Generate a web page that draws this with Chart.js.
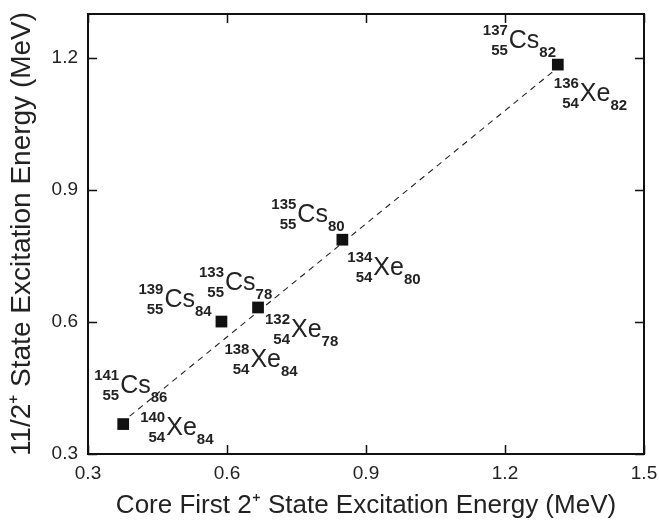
<!DOCTYPE html>
<html>
<head>
<meta charset="utf-8">
<script src="https://cdn.jsdelivr.net/npm/chart.js@4"></script>
<style>
  html, body { margin: 0; padding: 0; background: #fff; }
  #wrap { width: 659px; height: 521px; }
</style>
</head>
<body>
<div id="wrap"><canvas id="chart" width="659" height="521"></canvas></div>
<script>
// core 2+ energy (x) vs 11/2+ energy (y), MeV
const coreE = [0.376, 0.588, 0.667, 0.849, 1.314];
const levelE = [0.368, 0.601, 0.633, 0.787, 1.185];
// nuclide labels, Cs isotope and its Xe core
const csMass = [141, 139, 133, 135, 137];
const csN = [86, 84, 78, 80, 82];
const xeMass = [140, 138, 132, 134, 136];
const xeN = [84, 84, 78, 80, 82];
// dashed trend line
const fitX = [0.39, 1.302];
const fitY = [0.386, 1.168];
const xTicks = [0.3, 0.6, 0.9, 1.2, 1.5];
const yTicks = [0.3, 0.6, 0.9, 1.2];

const textColor = '#222';
const FONT = '"Liberation Sans", Arial, sans-serif';

// label offsets from the marker, in px
const csOff = [[-3, -31], [-57, -15], [-33, -17], [-45, -18], [-49, -17]];
const xeOff = [[43, 11], [29, 45], [33, 30], [31, 35], [22, 36]];

function drawNuclide(ctx, x, y, A, Z, sym, N) {
  ctx.fillStyle = textColor;
  ctx.textBaseline = 'alphabetic';
  ctx.font = 'bold 15px ' + FONT;
  ctx.textAlign = 'right';
  ctx.fillText(String(A), x - 1, y - 13);
  ctx.fillText(String(Z), x - 1, y + 7);
  ctx.font = '25px ' + FONT;
  ctx.textAlign = 'left';
  ctx.fillText(sym, x, y);
  const w = ctx.measureText(sym).width;
  ctx.font = 'bold 15px ' + FONT;
  ctx.fillText(String(N), x + w, y + 9);
}

const framePlugin = {
  id: 'frame',
  afterDraw(chart) {
    const { ctx, chartArea: a, scales } = chart;
    ctx.save();
    ctx.strokeStyle = '#111';
    ctx.lineWidth = 1.5;
    const tl = 9;
    ctx.beginPath();
    xTicks.forEach(v => {
      const px = Math.round(scales.x.getPixelForValue(v)) + 0.5;
      ctx.moveTo(px, a.bottom); ctx.lineTo(px, a.bottom - tl);
      ctx.moveTo(px, a.top); ctx.lineTo(px, a.top + tl);
    });
    yTicks.forEach(v => {
      const py = Math.round(scales.y.getPixelForValue(v)) + 0.5;
      ctx.moveTo(a.left, py); ctx.lineTo(a.left + tl, py);
      ctx.moveTo(a.right, py); ctx.lineTo(a.right - tl, py);
    });
    ctx.stroke();
    ctx.lineWidth = 2;
    ctx.strokeRect(a.left, a.top, a.right - a.left, a.bottom - a.top);
    ctx.restore();
  },
  afterDatasetsDraw(chart) {
    const { ctx, scales } = chart;
    ctx.save();
    coreE.forEach((xv, i) => {
      const px = scales.x.getPixelForValue(xv);
      const py = scales.y.getPixelForValue(levelE[i]);
      drawNuclide(ctx, px + csOff[i][0], py + csOff[i][1], csMass[i], 55, 'Cs', csN[i]);
      drawNuclide(ctx, px + xeOff[i][0], py + xeOff[i][1], xeMass[i], 54, 'Xe', xeN[i]);
    });
    ctx.restore();
  }
};

new Chart(document.getElementById('chart'), {
  type: 'scatter',
  data: {
    datasets: [
      {
        data: coreE.map((x, i) => ({ x: x, y: levelE[i] })),
        pointStyle: 'rect',
        pointRadius: 8.3,
        pointHoverRadius: 8.3,
        backgroundColor: '#111',
        borderColor: '#111',
        borderWidth: 0,
        order: 1
      },
      {
        data: fitX.map((x, i) => ({ x: x, y: fitY[i] })),
        showLine: true,
        borderColor: '#222',
        borderWidth: 1.1,
        borderDash: [6, 5],
        pointRadius: 0,
        order: 2
      }
    ]
  },
  options: {
    responsive: false,
    animation: false,
    layout: { padding: { top: 14, right: 15, bottom: 0, left: 0 } },
    plugins: { legend: { display: false }, tooltip: { enabled: false } },
    scales: {
      x: {
        type: 'linear',
        min: 0.3, max: 1.5,
        afterBuildTicks: s => { s.ticks = xTicks.map(v => ({ value: v })); },
        afterFit: s => { s.height = 67; s.paddingLeft = 0; s.paddingRight = 0; },
        grid: { display: false, drawTicks: false },
        border: { display: false },
        ticks: {
          padding: 8,
          color: textColor,
          font: { family: FONT, size: 19 },
          callback: v => v.toFixed(1)
        },
        title: {
          display: true,
          text: 'Core First 2⁺ State Excitation Energy (MeV)',
          color: textColor,
          font: { family: FONT, size: 26 },
          padding: { top: 0, bottom: 0 }
        }
      },
      y: {
        type: 'linear',
        min: 0.3, max: 1.3,
        afterBuildTicks: s => { s.ticks = yTicks.map(v => ({ value: v })); },
        afterFit: s => { s.width = 88; s.paddingTop = 0; s.paddingBottom = 0; },
        grid: { display: false, drawTicks: false },
        border: { display: false },
        ticks: {
          padding: 10,
          color: textColor,
          font: { family: FONT, size: 19 },
          callback: v => v.toFixed(1)
        },
        title: {
          display: true,
          text: '11/2⁺ State Excitation Energy (MeV)',
          color: textColor,
          font: { family: FONT, size: 28 },
          padding: { top: 5, bottom: 0 }
        }
      }
    }
  },
  plugins: [framePlugin]
});
</script>
</body>
</html>
